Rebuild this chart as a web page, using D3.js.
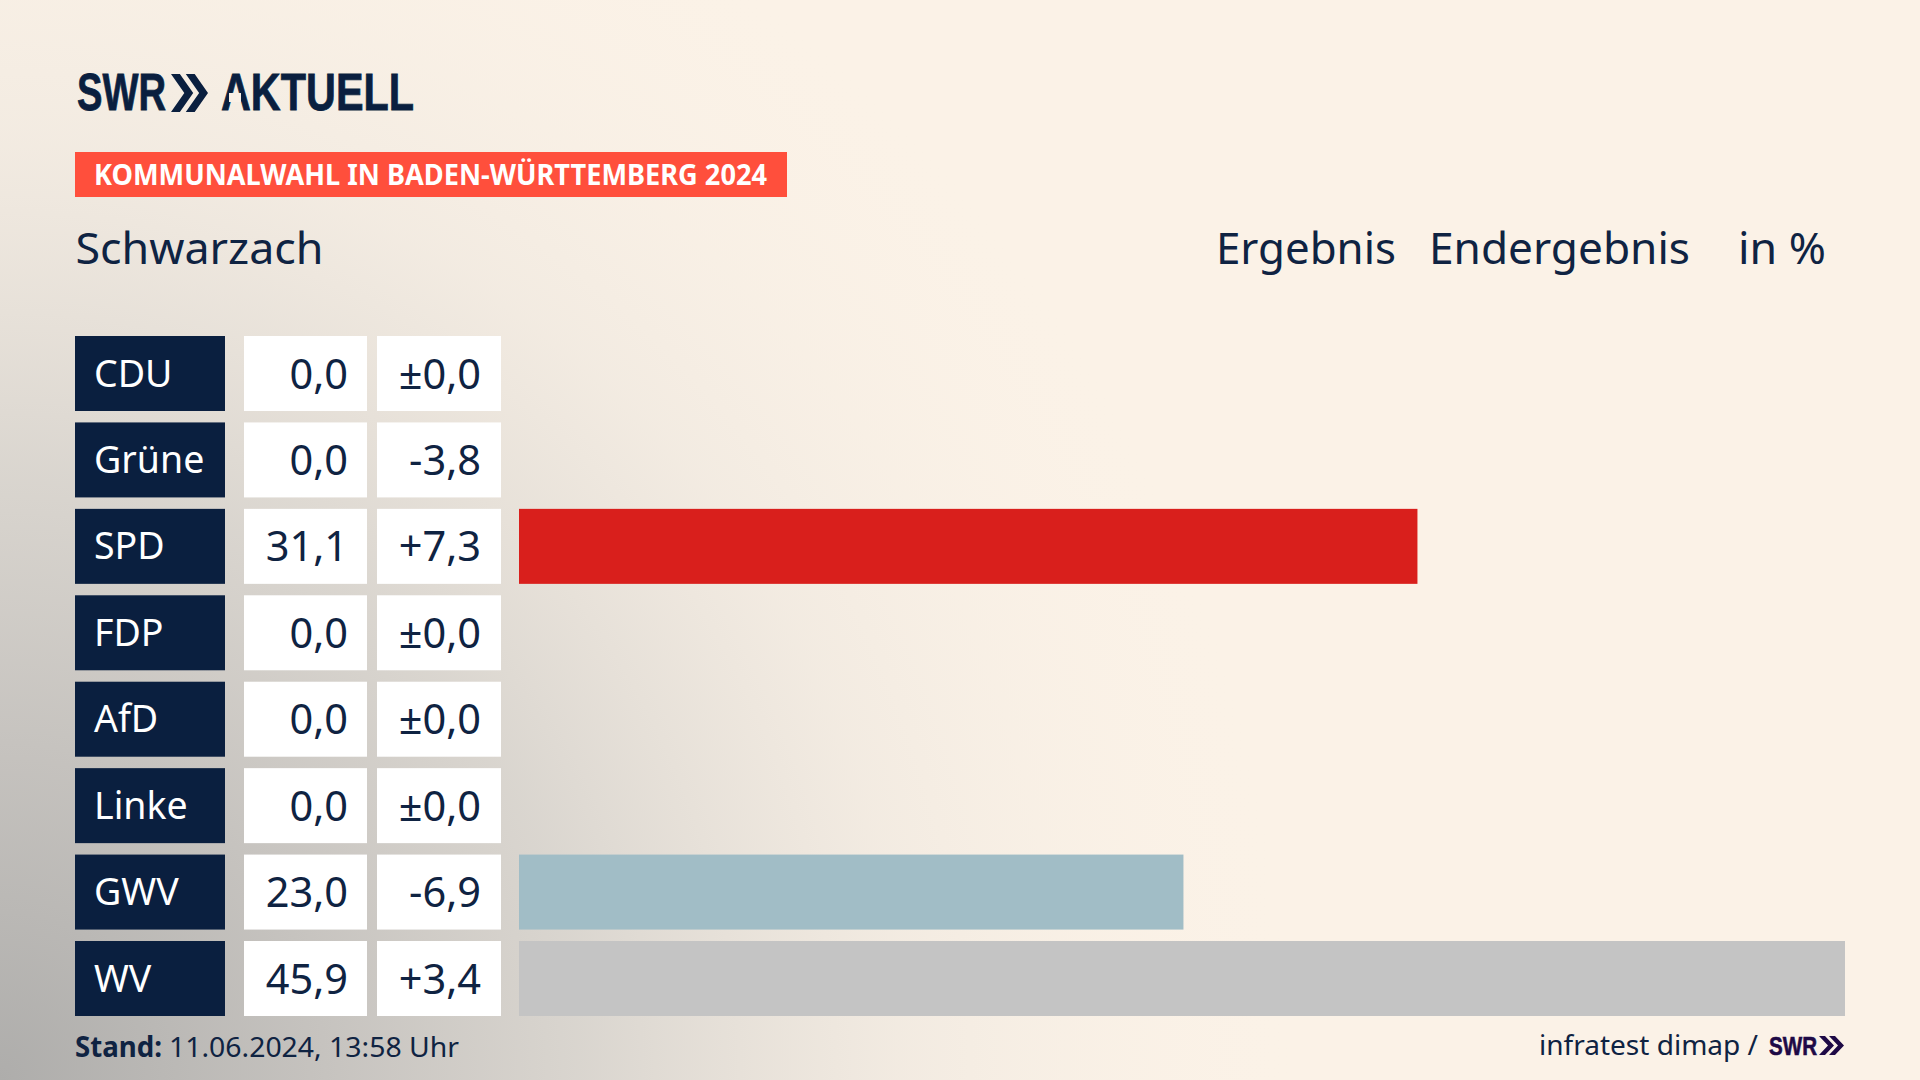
<!DOCTYPE html>
<html lang="de">
<head>
<meta charset="utf-8">
<title>Kommunalwahl Schwarzach</title>
<script src="https://cdnjs.cloudflare.com/ajax/libs/d3/7.9.0/d3.min.js"></script>
<style>
  html, body { margin: 0; padding: 0; background: #fbf2e7; }
  svg { display: block; }
  text { font-family: "Noto Sans", sans-serif; }
</style>
</head>
<body>
<svg id="chart" width="1920" height="1080"></svg>
<script>
const parties = ['CDU', 'Grüne', 'SPD', 'FDP', 'AfD', 'Linke', 'GWV', 'WV']
const results = [0, 0, 31.1, 0, 0, 0, 23.0, 45.9]
const changes = [0, -3.8, 7.3, 0, 0, 0, -6.9, 3.4]
const barColours = ['#0a1f3f', '#4f9a3a', '#d91f1c', '#f5d000', '#1f8fd0', '#b0206a', '#a1bdc6', '#c4c4c4']

const navy = '#0a1f3f'
const textColour = '#0f2342'
const cream = '#fbf2e7'

const svg = d3.select('#chart')

const locale = d3.formatLocale({ decimal: ',', thousands: '.', grouping: [3], currency: ['', ' €'], minus: '-' })
const fmtResult = locale.format('.1f')
const fmtChange = v => v === 0 ? '±0,0' : locale.format('+.1f')(v)

const x = d3.scaleLinear().domain([0, 45.9]).range([519, 1845])
const y = d3.scaleBand().domain(parties).range([336, 1016]).paddingInner(0.1323)

/* Background: cream with grey shading from bottom left */
const defs = svg.append('defs')

const shade = defs.append('radialGradient')
    .attr('id', 'shade')
    .attr('gradientUnits', 'userSpaceOnUse')
    .attr('cx', 0).attr('cy', 0).attr('r', 1)
    .attr('gradientTransform', 'translate(0,1080) scale(1300,1350)')
shade.append('stop').attr('offset', '0%').attr('stop-color', '#aeadab').attr('stop-opacity', 1)
shade.append('stop').attr('offset', '25%').attr('stop-color', '#c6c3bf').attr('stop-opacity', 1)
shade.append('stop').attr('offset', '45%').attr('stop-color', '#d8d4ce').attr('stop-opacity', 0.95)
shade.append('stop').attr('offset', '70%').attr('stop-color', '#efe8df').attr('stop-opacity', 0.7)
shade.append('stop').attr('offset', '100%').attr('stop-color', cream).attr('stop-opacity', 0)

svg.append('rect').attr('width', 1920).attr('height', 1080).attr('fill', cream)
svg.append('rect').attr('width', 1920).attr('height', 1080).attr('fill', 'url(#shade)')

/* fixed-width text, the reference face is narrower or wider than the installed ones */
function label (txt, px, py, size, width, opts = {}) {
  const t = svg.append('text')
      .attr('x', px)
      .attr('y', py)
      .attr('font-size', size)
      .attr('fill', opts.fill || textColour)
      .attr('font-weight', opts.weight || 400)
      .text(txt)
  if (opts.family) t.style('font-family', opts.family)
  if (opts.anchor) t.attr('text-anchor', opts.anchor)
  if (width) t.attr('textLength', width).attr('lengthAdjust', 'spacingAndGlyphs')
  return t
}

function chevrons (px, py, w, h, fill) {
  const cw = w * 0.6
  const step = w - cw
  const notch = cw * 0.4
  ;[0, step].forEach(dx => {
    const l = px + dx
    svg.append('path')
        .attr('d', `M${l},${py}L${l + notch},${py}L${l + cw},${py + h / 2}L${l + notch},${py + h}L${l},${py + h}L${l + cw - notch},${py + h / 2}Z`)
        .attr('fill', fill)
  })
}

/* HEADER */
const logoFont = '"Liberation Sans Narrow", "Liberation Sans", sans-serif'
label('SWR', 77, 110, 51, 89, { family: logoFont, weight: 700, fill: navy }).attr('stroke', navy).attr('stroke-width', 0.8)
chevrons(171, 74, 37, 38, navy)
label('AKTUELL', 221, 110, 51, 193, { family: logoFont, weight: 700, fill: navy }).attr('stroke', navy).attr('stroke-width', 0.8)
// the logo's A has no crossbar
svg.append('rect').attr('x', 229).attr('y', 93).attr('width', 12).attr('height', 9).attr('fill', '#f9f0e6')

svg.append('rect').attr('x', 75).attr('y', 152).attr('width', 712).attr('height', 45).attr('fill', '#ff4f3c')
label('KOMMUNALWAHL IN BADEN-WÜRTTEMBERG 2024', 94, 185, 28, 673, { weight: 700, fill: '#fff' })

label('Schwarzach', 75.5, 264, 44, 248)
label('Ergebnis', 1216, 264, 44, 180)
label('Endergebnis', 1429, 264, 44, 261)
label('in %', 1738, 264, 44, 88)

/* ROWS */
const rows = svg.append('g').selectAll('g')
    .data(parties)
    .join('g')
    .attr('transform', d => `translate(0,${y(d)})`)

rows.append('rect')
    .attr('x', 75).attr('width', 150).attr('height', y.bandwidth())
    .attr('fill', navy)
rows.append('text')
    .attr('x', 94).attr('y', 50.5)
    .attr('font-size', 37.5)
    .attr('fill', '#fff')
    .text(d => d)

rows.append('rect')
    .attr('x', 244).attr('width', 123).attr('height', y.bandwidth())
    .attr('fill', '#fff')
rows.append('text')
    .attr('x', 348).attr('y', 52.5)
    .attr('text-anchor', 'end')
    .attr('font-size', 41.5)
    .attr('fill', textColour)
    .text((d, i) => fmtResult(results[i]))

rows.append('rect')
    .attr('x', 377).attr('width', 124).attr('height', y.bandwidth())
    .attr('fill', '#fff')
rows.append('text')
    .attr('x', 481).attr('y', 52.5)
    .attr('text-anchor', 'end')
    .attr('font-size', 41.5)
    .attr('fill', textColour)
    .text((d, i) => fmtChange(changes[i]))

rows.append('rect')
    .attr('x', x(0))
    .attr('width', (d, i) => x(results[i]) - x(0))
    .attr('height', y.bandwidth())
    .attr('fill', (d, i) => barColours[i])

/* FOOTER */
label('Stand:', 75, 1057, 28, 87, { weight: 700 })
label('11.06.2024, 13:58 Uhr', 169, 1057, 28, 290)
label('infratest dimap /', 1539, 1055, 28, 219)
label('SWR', 1769, 1055, 26, 48, { family: logoFont, weight: 700, fill: '#1e0a46' }).attr('stroke', '#1e0a46').attr('stroke-width', 0.6)
chevrons(1819, 1036, 25, 19, '#1e0a46')
</script>
</body>
</html>
